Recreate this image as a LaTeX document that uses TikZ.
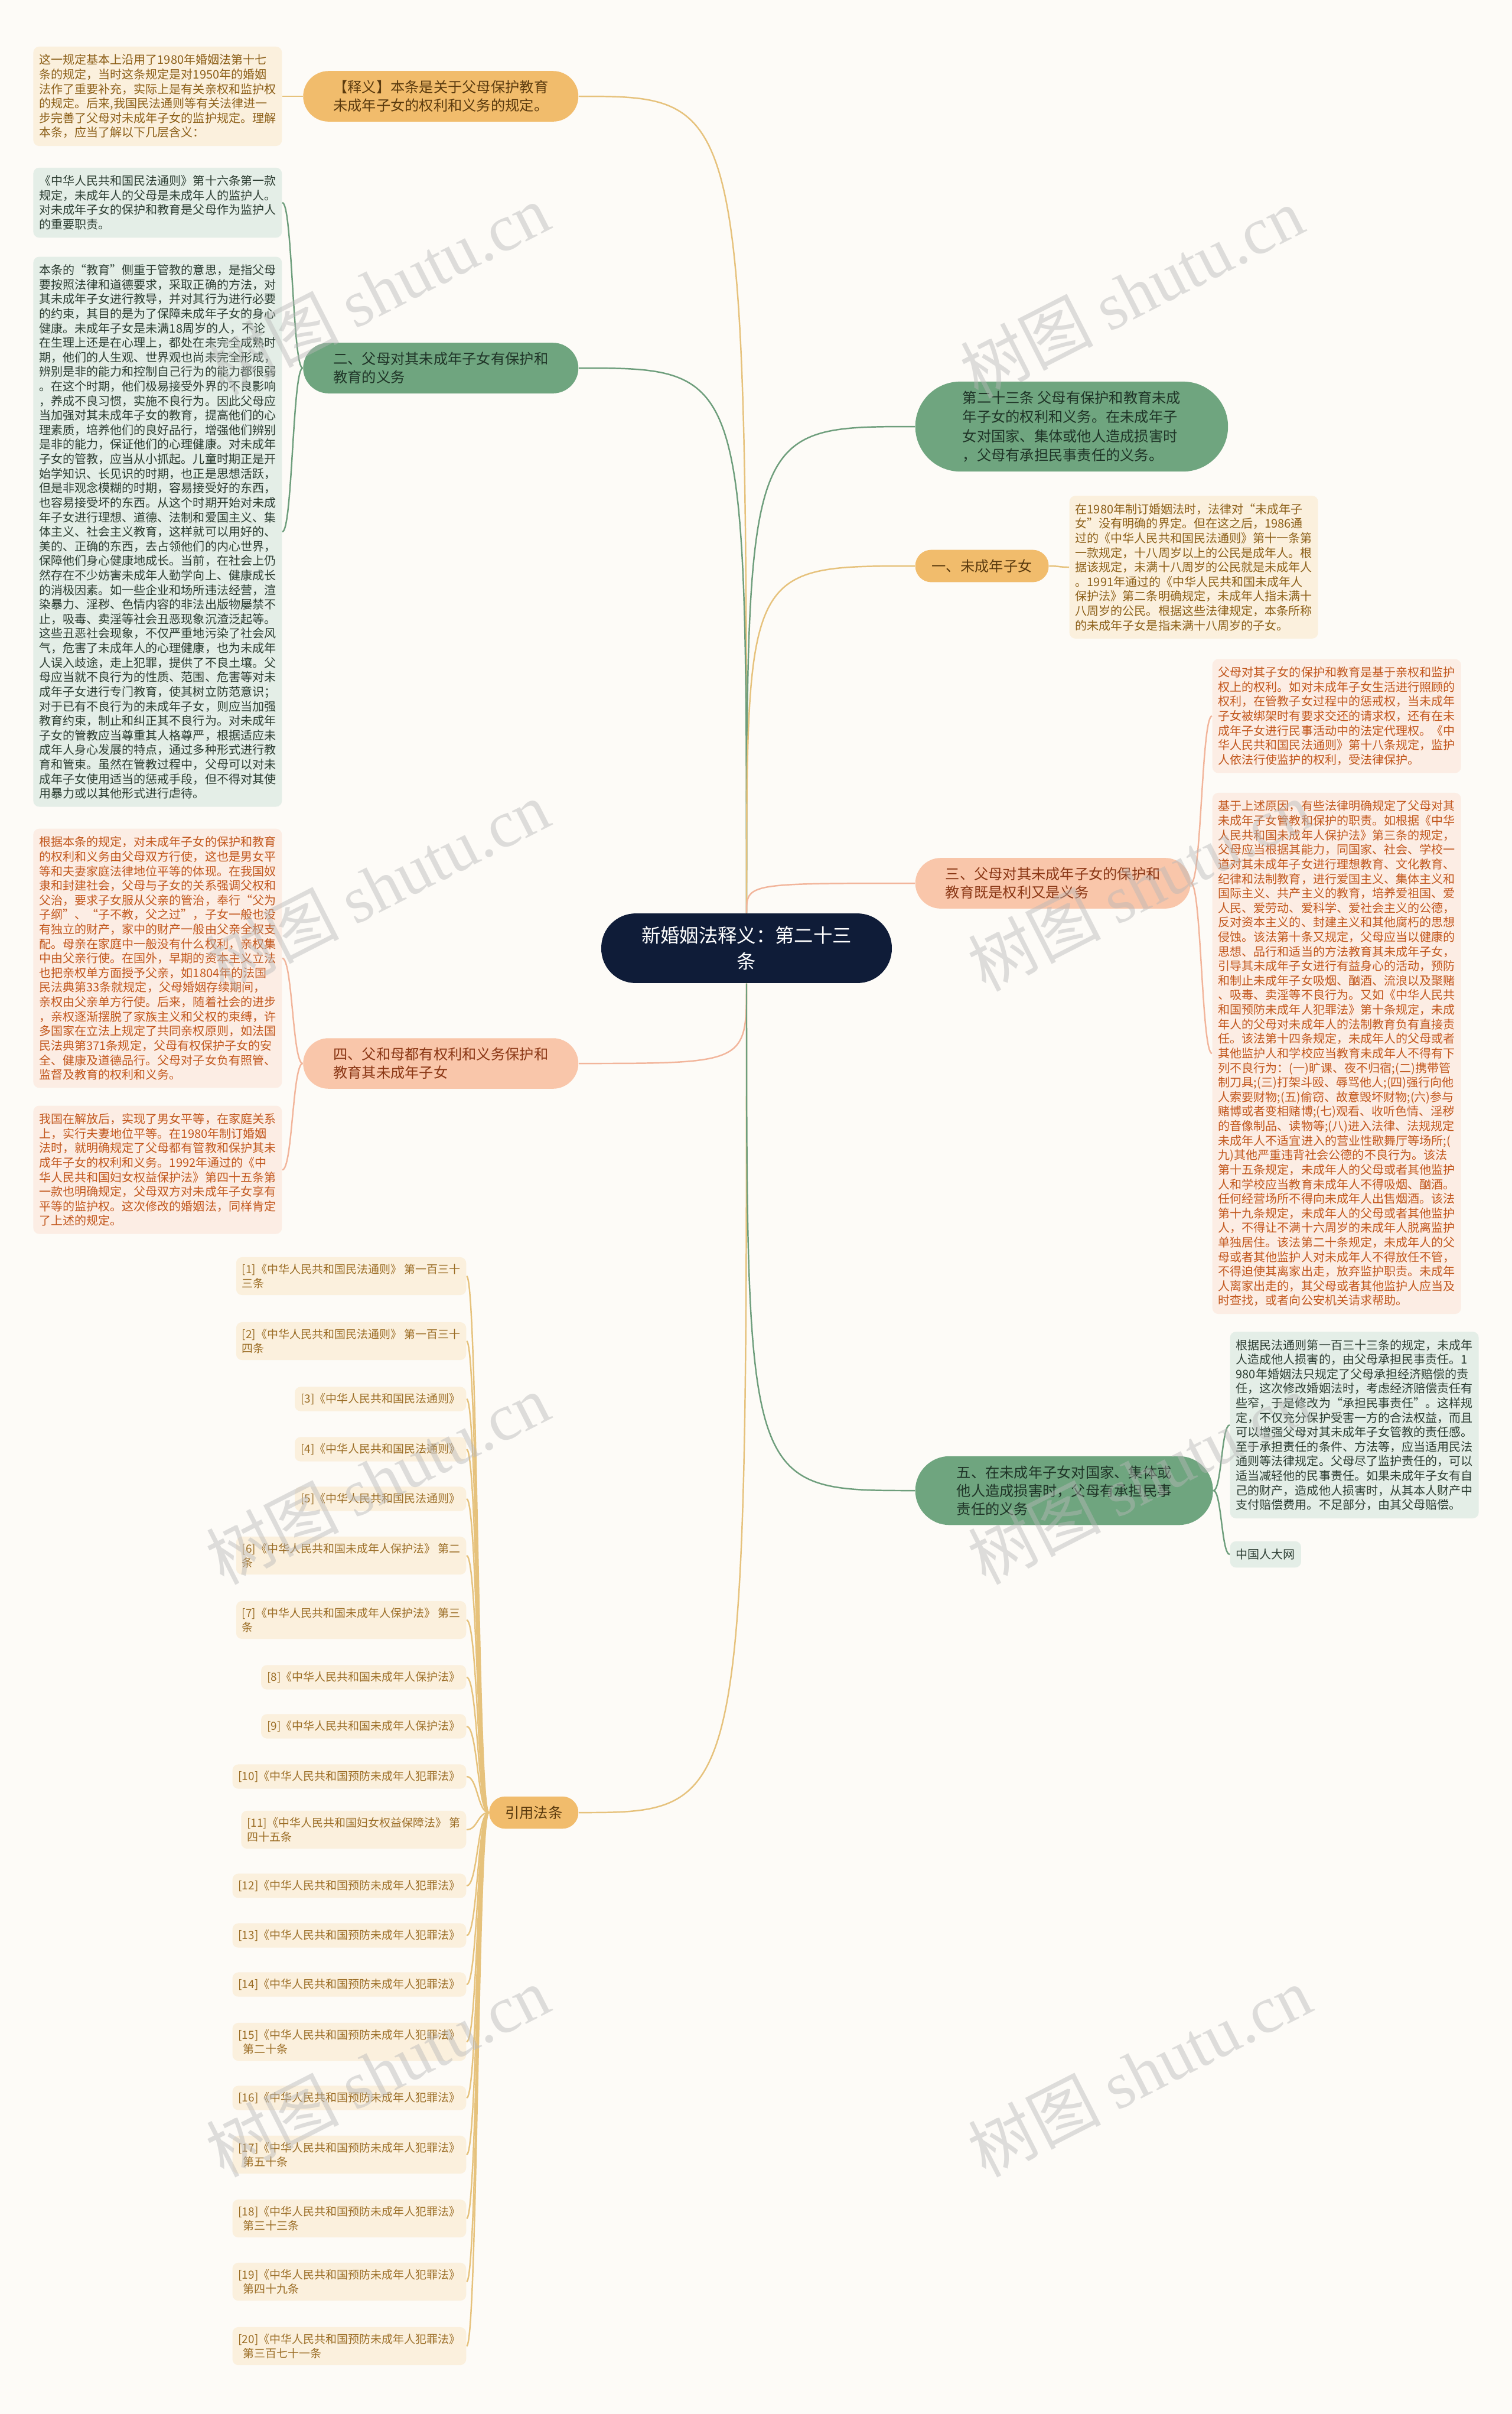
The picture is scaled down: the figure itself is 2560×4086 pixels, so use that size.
\documentclass[tikz,border=0pt]{standalone}
\usepackage{fontspec}
\setmainfont{Noto Sans CJK SC}
\newfontfamily\wmfont{Liberation Serif}
\usetikzlibrary{calc}

\definecolor{paper}{HTML}{FDFBF7}
\definecolor{navy}{HTML}{0F1C38}
\definecolor{gold}{HTML}{F1BC6C}
\definecolor{goldtext}{HTML}{5A3A0E}
\definecolor{goldline}{HTML}{E6C27C}
\definecolor{cream}{HTML}{FBF0DD}
\definecolor{creamtext}{HTML}{8C5F18}
\definecolor{sage}{HTML}{6FA57F}
\definecolor{sagetext}{HTML}{1F3427}
\definecolor{sageline}{HTML}{6E9E7C}
\definecolor{mint}{HTML}{E4EEE7}
\definecolor{minttext}{HTML}{2C3D32}
\definecolor{peach}{HTML}{F9C6AA}
\definecolor{peachtext}{HTML}{8A3614}
\definecolor{peachline}{HTML}{F2B59B}
\definecolor{blush}{HTML}{FCEDE4}
\definecolor{blushtext}{HTML}{C2571D}
\definecolor{wmgray}{HTML}{B8B8B8}

\tikzset{
  rootbox/.style={fill=navy, text=white, rounded corners=0.58cm, align=center,
    inner xsep=0.68cm, inner ysep=0.22cm, font=\fontsize{9.2pt}{12.5pt}\selectfont},
  topic/.style={align=left, inner ysep=0.16cm, font=\fontsize{6.9pt}{8.8pt}\selectfont},
  pill/.style={rounded corners=#1, inner xsep=#1},
  goldtopic/.style={topic, fill=gold, text=goldtext},
  sagetopic/.style={topic, fill=sage, text=sagetext},
  peachtopic/.style={topic, fill=peach, text=peachtext},
  note/.style={rounded corners=0.1cm, align=left, inner xsep=0.1cm,
    inner ysep=0.13cm, font=\fontsize{5.7pt}{7pt}\selectfont},
  creamnote/.style={note, fill=cream, text=creamtext},
  mintnote/.style={note, fill=mint, text=minttext},
  blushnote/.style={note, fill=blush, text=blushtext},
  citenote/.style={note, fill=cream, text=creamtext!85!gold, inner ysep=0.11cm,
    anchor=east, font=\fontsize{5.4pt}{7pt}\selectfont},
  link/.style={line width=0.7pt},
  sweep/.style={to path={.. controls (\tikztostart |- \tikztotarget) .. (\tikztotarget)}},
  elbow/.style={to path={.. controls ($(\tikztostart)!0.5!(\tikztostart -| \tikztotarget)$)
    and ($(\tikztotarget)!0.5!(\tikztotarget -| \tikztostart)$) .. (\tikztotarget)}},
  watermark/.style={text=wmgray, opacity=0.45, rotate=27,
    font=\fontsize{32pt}{32pt}\selectfont},
}

\begin{document}
\begin{tikzpicture}[x=0.01cm,y=-0.01cm]
  \useasboundingbox (0,0) rectangle (2560,4086);
  \fill[paper] (0,0) rectangle (2560,4086);

  % centre
  \node[rootbox] (root) at (1264,1605) {新婚姻法释义：第二十三\\条};

  % left branches
  \node[goldtopic, pill=0.43cm, inner xsep=0.51cm, anchor=east] (expl) at (980,163)
    {【释义】本条是关于父母保护教育\\未成年子女的权利和义务的规定。};
  \node[sagetopic, pill=0.43cm, inner xsep=0.51cm, anchor=east] (duty) at (980,623)
    {二、父母对其未成年子女有保护和\\教育的义务};
  \node[peachtopic, pill=0.43cm, inner xsep=0.51cm, anchor=east] (equal) at (980,1800)
    {四、父和母都有权利和义务保护和\\教育其未成年子女};
  \node[goldtopic, pill=0.27cm, anchor=east] (cite) at (980,3068) {引用法条};

  % right branches
  \node[sagetopic, pill=0.76cm, inner xsep=0.8cm, anchor=west,
    font=\fontsize{6.9pt}{9.2pt}\selectfont] (law) at (1549,722)
    {第二十三条 父母有保护和教育未成\\年子女的权利和义务。在未成年子\\女对国家、集体或他人造成损害时\\，父母有承担民事责任的义务。};
  \node[goldtopic, pill=0.27cm, inner xsep=0.28cm, anchor=west] (minor) at (1549,958) {一、未成年子女};
  \node[peachtopic, pill=0.43cm, inner xsep=0.51cm, anchor=west] (both) at (1549,1495)
    {三、父母对其未成年子女的保护和\\教育既是权利又是义务};
  \node[sagetopic, pill=0.58cm, inner xsep=0.7cm, anchor=west] (liab) at (1549,2523)
    {五、在未成年子女对国家、集体或\\他人造成损害时，父母有承担民事\\责任的义务};

  \draw[link, goldline] (root.north) to[sweep] (expl.east);
  \draw[link, sageline] (root.north) to[sweep] (duty.east);
  \draw[link, peachline] (root.south) to[sweep] (equal.east);
  \draw[link, goldline] (root.south) to[sweep] (cite.east);
  \draw[link, sageline] (root.north) to[sweep] (law.west);
  \draw[link, goldline] (root.north) to[sweep] (minor.west);
  \draw[link, peachline] (root.north) to[sweep] (both.west);
  \draw[link, sageline] (root.south) to[sweep] (liab.west);

  % notes, left
  \node[creamnote, anchor=east] (explnote) at (478,163)
    {这一规定基本上沿用了1980年婚姻法第十七\\条的规定，当时这条规定是对1950年的婚姻\\法作了重要补充，实际上是有关亲权和监护权\\的规定。后来,我国民法通则等有关法律进一\\步完善了父母对未成年子女的监护规定。理解\\本条，应当了解以下几层含义：};
  \node[mintnote, anchor=east] (dutynotea) at (478,343)
    {《中华人民共和国民法通则》第十六条第一款\\规定，未成年人的父母是未成年人的监护人。\\对未成年子女的保护和教育是父母作为监护人\\的重要职责。};
  \node[mintnote, anchor=east] (dutynoteb) at (478,900)
    {本条的“教育”侧重于管教的意思，是指父母\\要按照法律和道德要求，采取正确的方法，对\\其未成年子女进行教导，并对其行为进行必要\\的约束，其目的是为了保障未成年子女的身心\\健康。未成年子女是未满18周岁的人，不论\\在生理上还是在心理上，都处在未完全成熟时\\期，他们的人生观、世界观也尚未完全形成，\\辨别是非的能力和控制自己行为的能力都很弱\\。在这个时期，他们极易接受外界的不良影响\\，养成不良习惯，实施不良行为。因此父母应\\当加强对其未成年子女的教育，提高他们的心\\理素质，培养他们的良好品行，增强他们辨别\\是非的能力，保证他们的心理健康。对未成年\\子女的管教，应当从小抓起。儿童时期正是开\\始学知识、长见识的时期，也正是思想活跃，\\但是非观念模糊的时期，容易接受好的东西，\\也容易接受坏的东西。从这个时期开始对未成\\年子女进行理想、道德、法制和爱国主义、集\\体主义、社会主义教育，这样就可以用好的、\\美的、正确的东西，去占领他们的内心世界，\\保障他们身心健康地成长。当前，在社会上仍\\然存在不少妨害未成年人勤学向上、健康成长\\的消极因素。如一些企业和场所违法经营，渲\\染暴力、淫秽、色情内容的非法出版物屡禁不\\止，吸毒、卖淫等社会丑恶现象沉渣泛起等。\\这些丑恶社会现象，不仅严重地污染了社会风\\气，危害了未成年人的心理健康，也为未成年\\人误入歧途，走上犯罪，提供了不良土壤。父\\母应当就不良行为的性质、范围、危害等对未\\成年子女进行专门教育，使其树立防范意识；\\对于已有不良行为的未成年子女，则应当加强\\教育约束，制止和纠正其不良行为。对未成年\\子女的管教应当尊重其人格尊严，根据适应未\\成年人身心发展的特点，通过多种形式进行教\\育和管束。虽然在管教过程中，父母可以对未\\成年子女使用适当的惩戒手段，但不得对其使\\用暴力或以其他形式进行虐待。};
  \node[blushnote, anchor=east] (equalnotea) at (478,1622)
    {根据本条的规定，对未成年子女的保护和教育\\的权利和义务由父母双方行使，这也是男女平\\等和夫妻家庭法律地位平等的体现。在我国奴\\隶和封建社会，父母与子女的关系强调父权和\\父治，要求子女服从父亲的管治，奉行“父为\\子纲”、“子不教，父之过”，子女一般也没\\有独立的财产，家中的财产一般由父亲全权支\\配。母亲在家庭中一般没有什么权利，亲权集\\中由父亲行使。在国外，早期的资本主义立法\\也把亲权单方面授予父亲，如1804年的法国\\民法典第33条就规定，父母婚姻存续期间，\\亲权由父亲单方行使。后来，随着社会的进步\\，亲权逐渐摆脱了家族主义和父权的束缚，许\\多国家在立法上规定了共同亲权原则，如法国\\民法典第371条规定，父母有权保护子女的安\\全、健康及道德品行。父母对子女负有照管、\\监督及教育的权利和义务。};
  \node[blushnote, anchor=east] (equalnoteb) at (478,1980)
    {我国在解放后，实现了男女平等，在家庭关系\\上，实行夫妻地位平等。在1980年制订婚姻\\法时，就明确规定了父母都有管教和保护其未\\成年子女的权利和义务。1992年通过的《中\\华人民共和国妇女权益保护法》第四十五条第\\一款也明确规定，父母双方对未成年子女享有\\平等的监护权。这次修改的婚姻法，同样肯定\\了上述的规定。};

  \draw[link, goldline] (expl.west) to[elbow] (explnote.east);
  \draw[link, sageline] (duty.west) to[elbow] (dutynotea.east);
  \draw[link, sageline] (duty.west) to[elbow] (dutynoteb.east);
  \draw[link, peachline] (equal.west) to[elbow] (equalnotea.east);
  \draw[link, peachline] (equal.west) to[elbow] (equalnoteb.east);

  % notes, right
  \node[creamnote, anchor=west] (minornote) at (1810,960)
    {在1980年制订婚姻法时，法律对“未成年子\\女”没有明确的界定。但在这之后，1986通\\过的《中华人民共和国民法通则》第十一条第\\一款规定，十八周岁以上的公民是成年人。根\\据该规定，未满十八周岁的公民就是未成年人\\。1991年通过的《中华人民共和国未成年人\\保护法》第二条明确规定，未成年人指未满十\\八周岁的公民。根据这些法律规定，本条所称\\的未成年子女是指未满十八周岁的子女。};
  \node[blushnote, anchor=west] (bothnotea) at (2052,1212)
    {父母对其子女的保护和教育是基于亲权和监护\\权上的权利。如对未成年子女生活进行照顾的\\权利，在管教子女过程中的惩戒权，当未成年\\子女被绑架时有要求交还的请求权，还有在未\\成年子女进行民事活动中的法定代理权。《中\\华人民共和国民法通则》第十八条规定，监护\\人依法行使监护的权利，受法律保护。};
  \node[blushnote, anchor=west] (bothnoteb) at (2052,1783)
    {基于上述原因，有些法律明确规定了父母对其\\未成年子女管教和保护的职责。如根据《中华\\人民共和国未成年人保护法》第三条的规定，\\父母应当根据其能力，同国家、社会、学校一\\道对其未成年子女进行理想教育、文化教育、\\纪律和法制教育，进行爱国主义、集体主义和\\国际主义、共产主义的教育，培养爱祖国、爱\\人民、爱劳动、爱科学、爱社会主义的公德，\\反对资本主义的、封建主义和其他腐朽的思想\\侵蚀。该法第十条又规定，父母应当以健康的\\思想、品行和适当的方法教育其未成年子女，\\引导其未成年子女进行有益身心的活动，预防\\和制止未成年子女吸烟、酗酒、流浪以及聚赌\\、吸毒、卖淫等不良行为。又如《中华人民共\\和国预防未成年人犯罪法》第十条规定，未成\\年人的父母对未成年人的法制教育负有直接责\\任。该法第十四条规定，未成年人的父母或者\\其他监护人和学校应当教育未成年人不得有下\\列不良行为：(一)旷课、夜不归宿;(二)携带管\\制刀具;(三)打架斗殴、辱骂他人;(四)强行向他\\人索要财物;(五)偷窃、故意毁坏财物;(六)参与\\赌博或者变相赌博;(七)观看、收听色情、淫秽\\的音像制品、读物等;(八)进入法律、法规规定\\未成年人不适宜进入的营业性歌舞厅等场所;(\\九)其他严重违背社会公德的不良行为。该法\\第十五条规定，未成年人的父母或者其他监护\\人和学校应当教育未成年人不得吸烟、酗酒。\\任何经营场所不得向未成年人出售烟酒。该法\\第十九条规定，未成年人的父母或者其他监护\\人，不得让不满十六周岁的未成年人脱离监护\\单独居住。该法第二十条规定，未成年人的父\\母或者其他监护人对未成年人不得放任不管，\\不得迫使其离家出走，放弃监护职责。未成年\\人离家出走的，其父母或者其他监护人应当及\\时查找，或者向公安机关请求帮助。};
  \node[mintnote, anchor=west] (liabnote) at (2082,2412)
    {根据民法通则第一百三十三条的规定，未成年\\人造成他人损害的，由父母承担民事责任。1\\980年婚姻法只规定了父母承担经济赔偿的责\\任，这次修改婚姻法时，考虑经济赔偿责任有\\些窄，于是修改为“承担民事责任”。这样规\\定，不仅充分保护受害一方的合法权益，而且\\可以增强父母对其未成年子女管教的责任感。\\至于承担责任的条件、方法等，应当适用民法\\通则等法律规定。父母尽了监护责任的，可以\\适当减轻他的民事责任。如果未成年子女有自\\己的财产，造成他人损害时，从其本人财产中\\支付赔偿费用。不足部分，由其父母赔偿。};
  \node[mintnote, anchor=west] (liabsrc) at (2082,2631) {中国人大网};

  \draw[link, goldline] (minor.east) to[elbow] (minornote.west);
  \draw[link, peachline] (both.east) to[elbow] (bothnotea.west);
  \draw[link, peachline] (both.east) to[elbow] (bothnoteb.west);
  \draw[link, sageline] (liab.east) to[elbow] (liabnote.west);
  \draw[link, sageline] (liab.east) to[elbow] (liabsrc.west);

  % cited laws
  \node[citenote] (r1) at (790,2160) {[1]《中华人民共和国民法通则》 第一百三十\\三条};
  \node[citenote] (r2) at (790,2270) {[2]《中华人民共和国民法通则》 第一百三十\\四条};
  \node[citenote] (r3) at (790,2368) {[3]《中华人民共和国民法通则》};
  \node[citenote] (r4) at (790,2453) {[4]《中华人民共和国民法通则》};
  \node[citenote] (r5) at (790,2537) {[5]《中华人民共和国民法通则》};
  \node[citenote] (r6) at (790,2633) {[6]《中华人民共和国未成年人保护法》 第二\\条};
  \node[citenote] (r7) at (790,2742) {[7]《中华人民共和国未成年人保护法》 第三\\条};
  \node[citenote] (r8) at (790,2839) {[8]《中华人民共和国未成年人保护法》};
  \node[citenote] (r9) at (790,2922) {[9]《中华人民共和国未成年人保护法》};
  \node[citenote] (r10) at (790,3007) {[10]《中华人民共和国预防未成年人犯罪法》};
  \node[citenote] (r11) at (790,3097) {[11]《中华人民共和国妇女权益保障法》 第\\四十五条};
  \node[citenote] (r12) at (790,3192) {[12]《中华人民共和国预防未成年人犯罪法》};
  \node[citenote] (r13) at (790,3276) {[13]《中华人民共和国预防未成年人犯罪法》};
  \node[citenote] (r14) at (790,3359) {[14]《中华人民共和国预防未成年人犯罪法》};
  \node[citenote] (r15) at (790,3456) {[15]《中华人民共和国预防未成年人犯罪法》\\\hspace*{0.4em}第二十条};
  \node[citenote] (r16) at (790,3551) {[16]《中华人民共和国预防未成年人犯罪法》};
  \node[citenote] (r17) at (790,3647) {[17]《中华人民共和国预防未成年人犯罪法》\\\hspace*{0.4em}第五十条};
  \node[citenote] (r18) at (790,3755) {[18]《中华人民共和国预防未成年人犯罪法》\\\hspace*{0.4em}第三十三条};
  \node[citenote] (r19) at (790,3862) {[19]《中华人民共和国预防未成年人犯罪法》\\\hspace*{0.4em}第四十九条};
  \node[citenote] (r20) at (790,3971) {[20]《中华人民共和国预防未成年人犯罪法》\\\hspace*{0.4em}第三百七十一条};

  \foreach \n in {1,...,20}
    \draw[link, goldline] (cite.west) to[elbow] (r\n.east);

  % watermarks
  \node[watermark] (wma) at (639,490) {树图 {\wmfont shutu.cn}};
  \node[watermark] (wmb) at (1916,495) {树图 {\wmfont shutu.cn}};
  \node[watermark] (wmc) at (639,1499) {树图 {\wmfont shutu.cn}};
  \node[watermark] (wmd) at (1929,1499) {树图 {\wmfont shutu.cn}};
  \node[watermark] (wme) at (639,2503) {树图 {\wmfont shutu.cn}};
  \node[watermark] (wmf) at (1929,2503) {树图 {\wmfont shutu.cn}};
  \node[watermark] (wmg) at (639,3506) {树图 {\wmfont shutu.cn}};
  \node[watermark] (wmh) at (1929,3506) {树图 {\wmfont shutu.cn}};
\end{tikzpicture}
\end{document}
